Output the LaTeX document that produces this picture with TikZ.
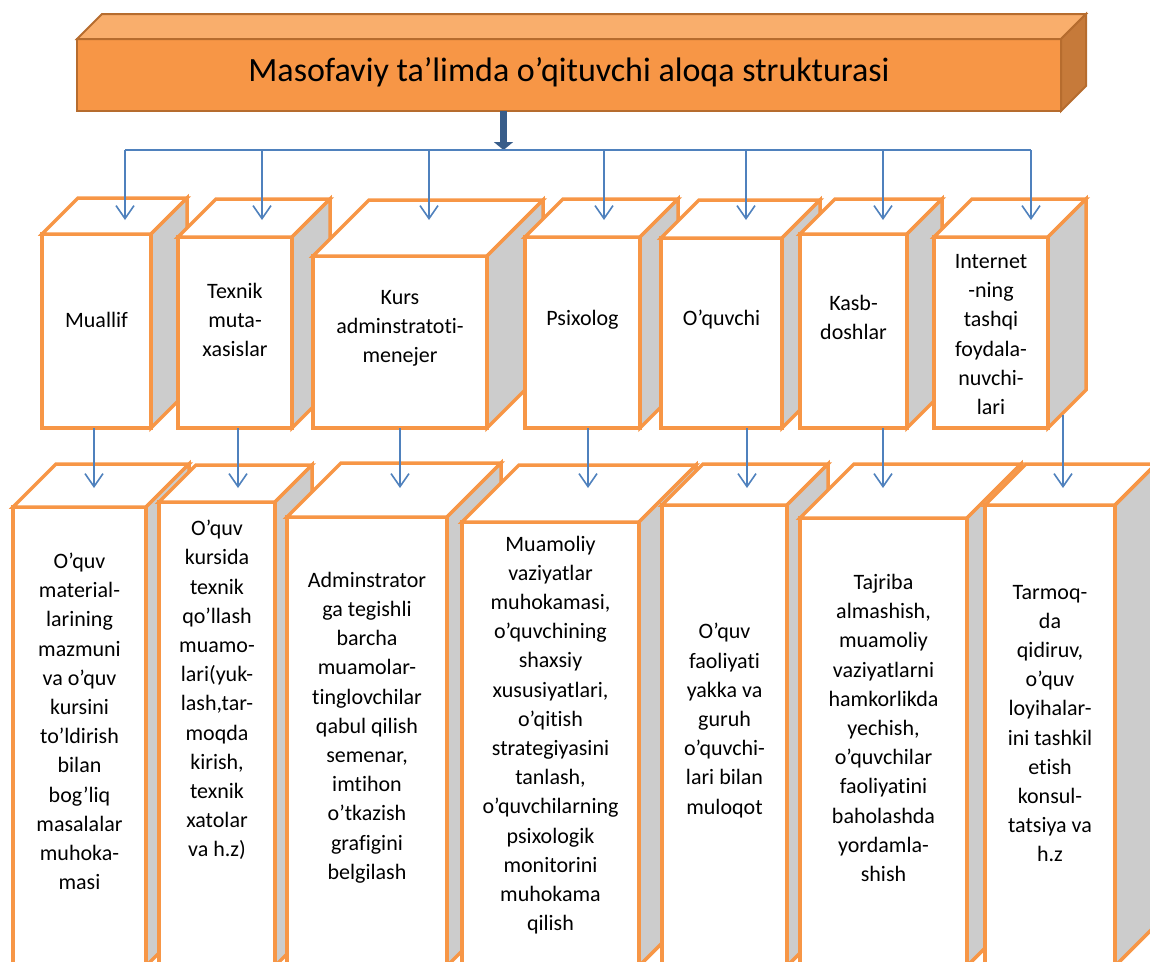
\documentclass[tikz,border=0pt]{standalone}
\usepackage{fontspec}
\setmainfont{Carlito}[Ligatures={NoCommon}]
\usepackage{tikz}
\usetikzlibrary{positioning}
\usetikzlibrary{arrows.meta}

\begin{document}
\begin{tikzpicture}[x=1pt,y=-1pt,
	face/.style={draw=boxline,line width=3.5pt,fill=white,line join=miter},
	front node/.style={face,rectangle,inner sep=0pt,outer sep=0pt},
	side/.style={face,fill=sidegray},
	title face/.style={draw=titleline,line width=2pt,line join=miter},
	lbl/.style={align=center,inner sep=0pt,font=\fontsize{22}{29.2}\selectfont},
	link/.style={draw=linkblue,line width=1.6pt},
	drop/.style={link,-{Straight Barb[length=13pt,width=18pt]}},
	trunk/.style={draw=trunkblue,line width=7pt,-{Triangle[length=8pt,width=19pt]}}]
	
	\definecolor{boxline}{RGB}{247,150,70}
	\definecolor{sidegray}{RGB}{204,204,204}
	\definecolor{linkblue}{RGB}{79,129,189}
	\definecolor{trunkblue}{RGB}{56,93,138}
	\definecolor{titlefront}{RGB}{247,150,70}
	\definecolor{titletop}{RGB}{249,174,108}
	\definecolor{titleside}{RGB}{198,122,58}
	\definecolor{titleline}{RGB}{182,108,46}
	
	\useasboundingbox (0,0) rectangle (1150,961);
	\clip (0,0) rectangle (1150,961);
	
	% title block
	\node[front node,title face,fill=titlefront,minimum width=984,minimum height=72] (title) at (569,75) {};
	\draw[title face,fill=titletop] (title.north west) -- ++(25,-25) -- ([shift={(25,-25)}]title.north east) -- (title.north east) -- cycle;
	\draw[title face,fill=titleside] (title.north east) -- ++(25,-25) -- ([shift={(25,-25)}]title.south east) -- (title.south east) -- cycle;
	\node[font=\fontsize{34}{40}\selectfont] (head) at ([yshift=3]title.center) {Masofaviy ta’limda o’qituvchi aloqa strukturasi};
	
	% boxes: name / centre x / centre y / width / height / depth
	\foreach \n/\cx/\cy/\w/\h/\d in {u1/96.5/331/109/194/36, u2/235/332.5/114/191/38,
		u3/400/342/174/172/56, u4/582.5/332.5/115/191/38, u5/721.5/333/121/190/38,
		u6/853.5/331/107/194/35, u7/991/332.5/114/191/38,
		l1/79.5/736.5/133/459/43, l2/217/734/116/464/37, l3/367/741.5/160/449/54,
		l4/550.5/744/177/444/57, l5/724.5/735.5/125/461/41, l6/883.5/742/167/448/54,
		l7/1050/735.5/130/461/41}{
		\node[front node,minimum width=\w,minimum height=\h] (\n) at (\cx,\cy) {};
		\draw[face] (\n.north west) -- ++(\d,-\d) -- ([shift={(\d,-\d)}]\n.north east) -- (\n.north east) -- cycle;
		\draw[side] (\n.north east) -- ([shift={(\d,-\d)}]\n.north east) -- ([shift={(\d,-\d)}]\n.south east) -- (\n.south east) -- cycle;
	}
	
	\node[lbl] (tu1) at ([yshift=11]u1.center) {Muallif};
	\node[lbl] (tu2) at ([yshift=12.5]u2.center) {Texnik\\muta-\\xasislar};
	\node[lbl] (tu3) at ([yshift=13.5]u3.center) {Kurs\\adminstratoti-\\menejer};
	\node[lbl] (tu4) at ([yshift=12.5]u4.center) {Psixolog};
	\node[lbl] (tu5) at ([yshift=13]u5.center) {O’quvchi};
	\node[lbl] (tu6) at ([yshift=13.5]u6.center) {Kasb-\\doshlar};
	\node[lbl] (tu7) at ([yshift=-2]u7.center) {Internet\\-ning\\tashqi\\foydala-\\nuvchi-\\lari};
	
	\node[lbl] (tl1) at ([yshift=15]l1.center) {O’quv\\material-\\larining\\mazmuni\\va o’quv\\kursini\\to’ldirish\\bilan\\bog’liq\\masalalar\\muhoka-\\masi};
	\node[lbl] (tl2) at ([yshift=44]l2.center) {O’quv\\kursida\\texnik\\qo’llash\\muamo-\\lari(yuk-\\lash,tar-\\moqda\\kirish,\\texnik\\xatolar\\va h.z)};
	\node[lbl] (tl3) at ([yshift=14]l3.center) {Adminstrator\\ga tegishli\\barcha\\muamolar-\\tinglovchilar\\qabul qilish\\semenar,\\imtihon\\o’tkazish\\grafigini\\belgilash};
	\node[lbl] (tl4) at ([yshift=9]l4.center) {Muamoliy\\vaziyatlar\\muhokamasi,\\o’quvchining\\shaxsiy\\xususiyatlari,\\o’qitish\\strategiyasini\\tanlash,\\o’quvchilarning\\psixologik\\monitorini\\muhokama\\qilish};
	\node[lbl] (tl5) at ([yshift=15]l5.center) {O’quv\\faoliyati\\yakka va\\guruh\\o’quvchi-\\lari bilan\\muloqot};
	\node[lbl] (tl6) at ([yshift=14]l6.center) {Tajriba\\almashish,\\muamoliy\\vaziyatlarni\\hamkorlikda\\yechish,\\o’quvchilar\\faoliyatini\\baholashda\\yordamla-\\shish};
	\node[lbl] (tl7) at ([yshift=12]l7.center) {Tarmoq-\\da\\qidiruv,\\o’quv\\loyihalar-\\ini tashkil\\etish\\konsul-\\tatsiya va\\h.z};
	
	% arrow ends
	\coordinate (hub) at (503.5,150);
	\foreach \i/\x in {1/125,2/262,3/429,4/604,5/746,6/883,7/1031}
		\coordinate (a\i) at (\x,220);
	\foreach \i/\x in {1/94,2/238,3/400,4/588,5/747,6/883,7/1063}
		\coordinate (b\i) at (\x,488);
	
	\draw[trunk] (title.south -| hub) -- (hub);
	\draw[link] (a1 |- hub) -- (a7 |- hub);
	\foreach \i in {1,...,7}
		\draw[drop] (a\i |- hub) -- (a\i);
	\foreach \i in {1,...,6}
		\draw[drop] (u\i.south -| b\i) -- (b\i);
	\draw[drop] (b7 |- u7.south) ++(0,-13) -- (b7);
\end{tikzpicture}
\end{document}
